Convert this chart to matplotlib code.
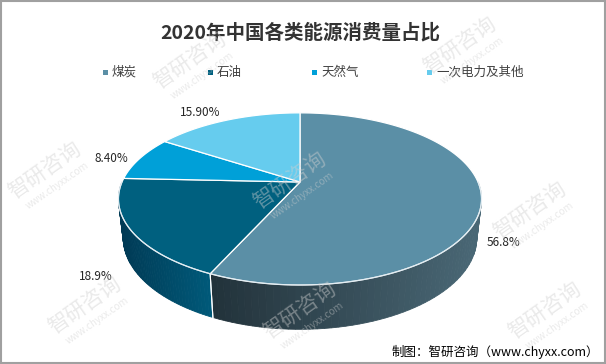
import numpy as np
import matplotlib
matplotlib.use("Agg")
from matplotlib import pyplot as plt
from matplotlib.patches import Polygon, Rectangle
from matplotlib.colors import to_rgb

plt.rcParams['font.family'] = ['Noto Sans CJK SC', 'DejaVu Sans']

title = '2020年中国各类能源消费量占比'
labels = ['煤炭', '石油', '天然气', '一次电力及其他']
shares = [56.8, 18.9, 8.4, 15.9]
value_text = ['56.8%', '18.9%', '8.40%', '15.90%']
top_colors = ['#5b8fa6', '#00607f', '#00a0d8', '#66ccee']
side_light = ['#4a6876', '#005a7a', '#0088b8', '#55aacc']
side_dark = ['#22323a', '#003a55', '#006690', '#3f8aa8']
source = '制图：智研咨询（www.chyxx.com）'

W, H = 606, 364
fig = plt.figure(figsize=(W / 100, H / 100), dpi=100)
ax = fig.add_axes([0, 0, 1, 1])
ax.set_xlim(0, W)
ax.set_ylim(H, 0)
ax.axis('off')

# perspective projection of the pie
cx, cy, R = 300, 182, 178
elev = np.radians(27.7)
D = 4.5
h = 0.25


def proj(th, z, r=1.0):
    X = r * np.sin(th)
    Y = r * np.cos(th)
    v = z * np.cos(elev) + Y * np.sin(elev)
    d = Y * np.cos(elev) - z * np.sin(elev)
    f = D / (D + d)
    return cx + R * X * f, cy - R * v * f


def lerp(c1, c2, t):
    a = np.array(to_rgb(c1))
    b = np.array(to_rgb(c2))
    return tuple(a + (b - a) * t)


bounds = np.concatenate([[0], np.cumsum(shares)]) / 100 * 2 * np.pi

# side walls (front half only)
for i in range(len(shares)):
    a = max(bounds[i], np.pi / 2)
    b = min(bounds[i + 1], 3 * np.pi / 2)
    if b <= a:
        continue
    ths = np.linspace(a, b, 60)
    xs0, ys0 = proj(ths, 0)
    xs1, ys1 = proj(ths, -h)
    xmin, xmax = xs0.min(), xs0.max()
    for k in range(len(ths) - 1):
        t = 1 - ((xs0[k] + xs0[k + 1]) / 2 - xmin) / max(xmax - xmin, 1)
        col = lerp(side_light[i], side_dark[i], t)
        quad = [(xs0[k], ys0[k]), (xs0[k + 1], ys0[k + 1]),
                (xs1[k + 1], ys1[k + 1]), (xs1[k], ys1[k])]
        ax.add_patch(Polygon(quad, closed=True, facecolor=col,
                             edgecolor=col, lw=0.6, zorder=2))
    # boundary line on the wall
    for th in (bounds[i], bounds[i + 1]):
        if np.pi / 2 < th < 3 * np.pi / 2:
            x0, y0 = proj(th, 0)
            x1, y1 = proj(th, -h)
            ax.plot([x0, x1], [y0, y1], color='white', lw=0.8, zorder=3)

# top faces
for i in range(len(shares)):
    ths = np.linspace(bounds[i], bounds[i + 1], 120)
    xs, ys = proj(ths, 0)
    pts = [proj(0, 0, 0)] + list(zip(xs, ys))
    ax.add_patch(Polygon(pts, closed=True, facecolor=top_colors[i],
                         edgecolor='white', lw=0.9, zorder=4))

# front rim highlight
ths = np.linspace(np.pi / 2, 3 * np.pi / 2, 200)
xs, ys = proj(ths, 0)
ax.plot(xs, ys, color='#dce9f0', lw=0.8, zorder=5, alpha=0.8)

# value labels
label_pos = [(504, 242), (96, 276), (111, 158), (200, 112)]
for txt, (x, y) in zip(value_text, label_pos):
    ax.text(x, y, txt, fontsize=8.5, color='#262626', ha='center', va='center', zorder=6)

# title
ax.text(300, 33, title, fontsize=14, fontweight='bold', color='#333333',
        ha='center', va='center', zorder=6)

# legend
leg_x = [105, 210, 314, 429]
for x, lab, col in zip(leg_x, labels, top_colors):
    ax.add_patch(Rectangle((x - 2.5, 70), 5, 5, facecolor=col, edgecolor='none', zorder=6))
    ax.text(x + 7, 72.5, lab, fontsize=9, color='#404040', ha='left', va='center', zorder=6)

# source note
ax.text(599, 352, source, fontsize=9, color='#000000', ha='right', va='center', zorder=6)

# watermarks
wm = [(190, 60), (460, 45), (290, 180), (45, 170), (85, 305), (300, 310), (530, 210), (545, 310)]
for x, y in wm:
    ax.text(x, y, '智研咨询', fontsize=15, color='#d0d0d0', alpha=0.45, rotation=35,
            ha='center', va='center', zorder=7)
    ax.text(x + 12, y + 16, 'www.chyxx.com', fontsize=7, color='#d0d0d0', alpha=0.45,
            rotation=35, ha='center', va='center', zorder=7)

# outer border
fig.patches.append(Rectangle((0.001, 0.002), 0.997, 0.996, transform=fig.transFigure,
                             fill=False, edgecolor='#a0a0a0', lw=1.5))

fig.savefig('out.png', dpi=100)
